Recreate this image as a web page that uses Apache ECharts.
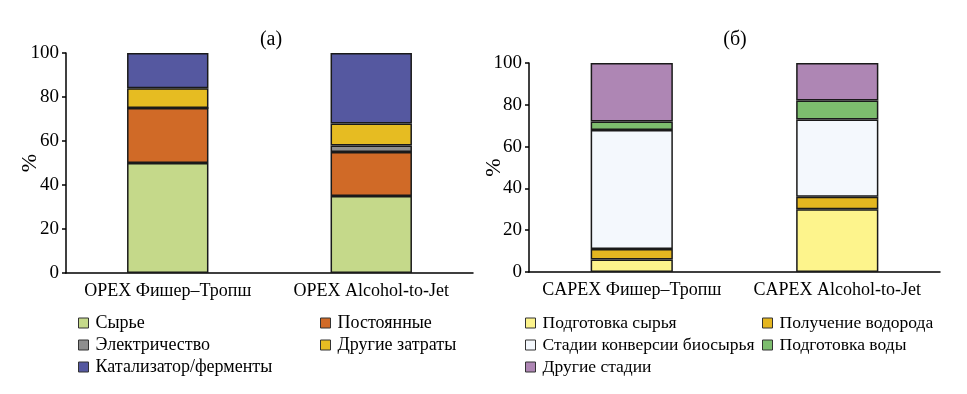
<!DOCTYPE html>
<html>
<head>
<meta charset="utf-8">
<script src="https://cdn.jsdelivr.net/npm/echarts@6/dist/echarts.min.js"></script>
<style>
html,body{margin:0;padding:0;background:#fff;}
#chart{width:967px;height:394px;}
</style>
</head>
<body>
<div id="chart"></div>
<script>
// ---- data ----
const opexCategories = ['OPEX Фишер–Тропш', 'OPEX Alcohol-to-Jet'];
const opexNames = ['Сырье', 'Постоянные', 'Электричество', 'Другие затраты', 'Катализатор/ферменты'];
const opexSyrye = [50, 35];
const opexPostoyannye = [25, 20];
const opexElectricity = [0, 3];
const opexOther = [9, 10];
const opexCatalyst = [16, 32];

const capexCategories = ['CAPEX Фишер–Тропш', 'CAPEX Alcohol-to-Jet'];
const capexNames = ['Подготовка сырья', 'Получение водорода', 'Стадии конверсии биосырья', 'Подготовка воды', 'Другие стадии'];
const capexFeedPrep = [6, 30];
const capexHydrogen = [5, 6];
const capexConversion = [57, 37];
const capexWater = [4, 9];
const capexOtherStages = [28, 18];

const yTicks = [0, 20, 40, 60, 80, 100];

const opexValues = [opexSyrye, opexPostoyannye, opexElectricity, opexOther, opexCatalyst];
const opexColors = ['#c5d98a', '#d06a27', '#8e8e8e', '#e6bc22', '#5558a0'];
const capexValues = [capexFeedPrep, capexHydrogen, capexConversion, capexWater, capexOtherStages];
const capexColors = ['#fdf48c', '#e4b620', '#f4f8fd', '#7dbd6e', '#ae86b4'];

const FONT = '"Liberation Serif", "DejaVu Serif", serif';

function yAxis(gridIndex, gap) {
  return {
    gridIndex: gridIndex, type: 'value', min: yTicks[0], max: yTicks[yTicks.length - 1], interval: 20,
    name: '%', nameLocation: 'middle', nameRotate: 90, nameGap: gap, nameMoveOverlap: false,
    nameTextStyle: { fontFamily: FONT, fontSize: 22, color: '#000' },
    axisLine: { show: true, lineStyle: { color: '#000', width: 1.5 } },
    axisTick: { show: true, length: 4, lineStyle: { color: '#000', width: 1.5 } },
    axisLabel: { fontFamily: FONT, fontSize: 19, color: '#000', margin: 7 },
    splitLine: { show: false }
  };
}
function xAxis(gridIndex, cats) {
  return {
    gridIndex: gridIndex, type: 'category', data: cats,
    axisLine: { show: true, lineStyle: { color: '#000', width: 1.5 } },
    axisTick: { show: false },
    axisLabel: { fontFamily: FONT, fontSize: 18, color: '#000', margin: 9, interval: 0, hideOverlap: false }
  };
}
const series = [];
opexNames.forEach((n, i) => series.push({
  name: n, type: 'bar', stack: 'opex', xAxisIndex: 0, yAxisIndex: 0, barWidth: '40%',
  data: opexValues[i],
  itemStyle: { color: opexColors[i], borderColor: '#1a1a1a', borderWidth: 1.5 }
}));
capexNames.forEach((n, i) => series.push({
  name: n, type: 'bar', stack: 'capex', xAxisIndex: 1, yAxisIndex: 1, barWidth: '40%',
  data: capexValues[i],
  itemStyle: { color: capexColors[i], borderColor: '#1a1a1a', borderWidth: 1.5 }
}));

function legend(left, data, fs) {
  return {
    left: left, top: 309, orient: 'vertical', data: data, icon: 'rect',
    itemWidth: 10, itemHeight: 10, itemGap: 22 - Math.round(fs), selectedMode: false,
    itemStyle: { borderColor: '#333', borderWidth: 1 },
    textStyle: { fontFamily: FONT, fontSize: fs, color: '#000', padding: [0, 0, 0, 2] }
  };
}

const chart = echarts.init(document.getElementById('chart'), null, { renderer: 'canvas' });
chart.setOption({
  animation: false,
  backgroundColor: '#fff',
  title: [
    { text: '(a)', left: 266, top: 25, textAlign: 'center', textStyle: { fontFamily: FONT, fontSize: 20, fontWeight: 'normal', color: '#000' } },
    { text: '(б)', left: 730, top: 25, textAlign: 'center', textStyle: { fontFamily: FONT, fontSize: 20, fontWeight: 'normal', color: '#000' } }
  ],
  grid: [
    { left: 66, right: 494, top: 53, bottom: 121 },
    { left: 529, right: 27, top: 63, bottom: 122 }
  ],
  xAxis: [xAxis(0, opexCategories), xAxis(1, capexCategories)],
  yAxis: [yAxis(0, 25), yAxis(1, 24)],
  legend: [
    legend(73, [opexNames[0], opexNames[2], opexNames[4]], 18),
    legend(315, [opexNames[1], opexNames[3]], 18),
    legend(520, [capexNames[0], capexNames[2], capexNames[4]], 17.5),
    legend(757, [capexNames[1], capexNames[3]], 17.5)
  ],
  series: series
});
</script>
</body>
</html>
